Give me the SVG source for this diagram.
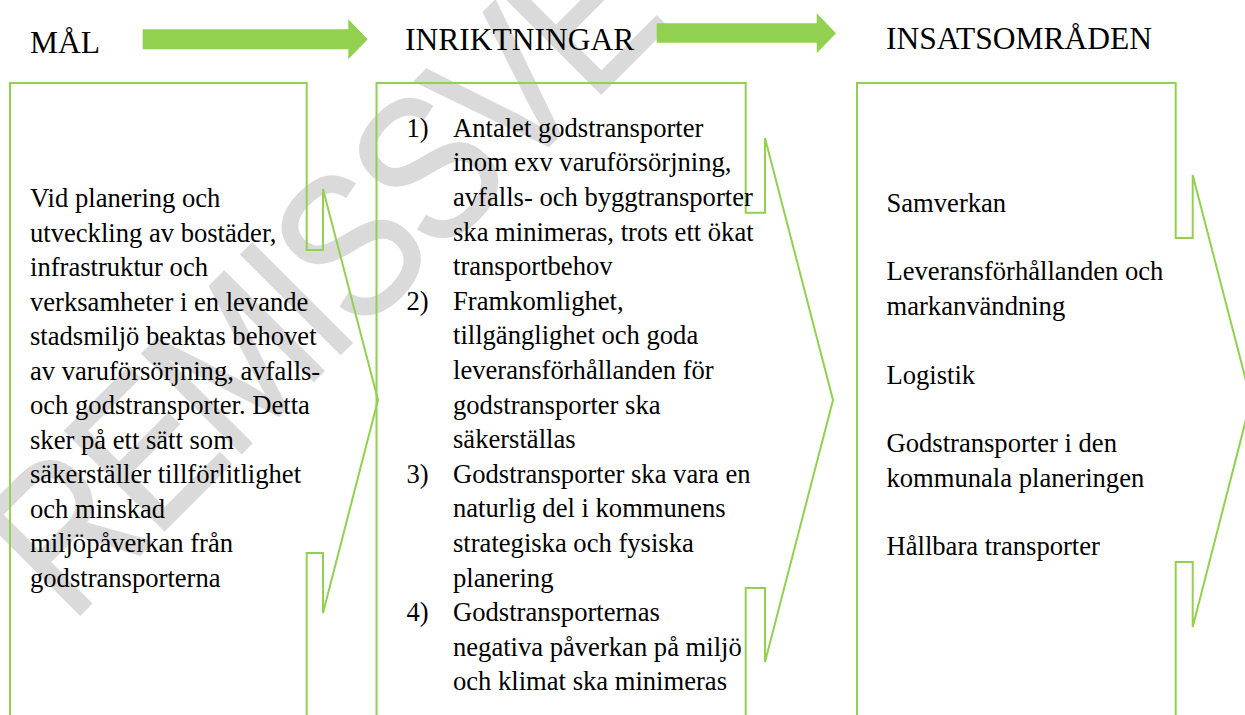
<svg xmlns="http://www.w3.org/2000/svg" width="1245" height="715" viewBox="0 0 1245 715">
<style>
.wm{font-family:"Liberation Sans",Arial,sans-serif;font-size:205px;letter-spacing:-8px;fill:#dadada;stroke:#dadada;stroke-width:1.5px}
.box{fill:none;stroke:#92D050;stroke-width:2}
.arr{fill:#92D050;stroke:none}
.h{font-family:"Liberation Serif","Times New Roman",serif;font-size:31.5px;fill:#000}
.t{font-family:"Liberation Serif","Times New Roman",serif;font-size:26.6px;fill:#000}
</style>
<rect width="1245" height="715" fill="#ffffff"/>
<text class="wm" transform="translate(70,625) rotate(-45) scale(0.85,1)">REMISSVE</text>
<g id="connectors">
<path class="arr" d="M142.7,29.3 H348.3 V19.3 L367.7,39.3 L348.3,59.3 V49.3 H142.7 Z"/>
<path class="arr" d="M656.7,23.3 H816.7 V13.3 L836,33.3 L816.7,53.3 V42.7 H656.7 Z"/>
</g>
<g id="mal">
<path class="box" d="M10,83 H306.7 V250 H323 V189 L378,400 L323,613 V553 H306.7 V730 H10 Z"/>
<text class="h" x="30" y="53">MÅL</text>
<text class="t" x="30">
<tspan x="30" y="207">Vid planering och</tspan>
<tspan x="30" y="241.5">utveckling av bostäder,</tspan>
<tspan x="30" y="276">infrastruktur och</tspan>
<tspan x="30" y="310.5">verksamheter i en levande</tspan>
<tspan x="30" y="345">stadsmiljö beaktas behovet</tspan>
<tspan x="30" y="379.5">av varuförsörjning, avfalls-</tspan>
<tspan x="30" y="414">och godstransporter. Detta</tspan>
<tspan x="30" y="448.5">sker på ett sätt som</tspan>
<tspan x="30" y="483">säkerställer tillförlitlighet</tspan>
<tspan x="30" y="517.5">och minskad</tspan>
<tspan x="30" y="552">miljöpåverkan från</tspan>
<tspan x="30" y="586.5">godstransporterna</tspan>
</text>
</g>
<g id="inriktningar">
<path class="box" d="M376.5,83 H745.7 V212.7 H765 V138 L833,400 L765,662 V588 H745.7 V730 H376.5 Z"/>
<text class="h" x="405" y="50">INRIKTNINGAR</text>
<text class="t">
<tspan x="406.5" y="136.7">1)</tspan>
<tspan x="453" y="136.7">Antalet godstransporter</tspan>
<tspan x="453" y="171.3">inom exv varuförsörjning,</tspan>
<tspan x="453" y="205.9">avfalls- och byggtransporter</tspan>
<tspan x="453" y="240.5">ska minimeras, trots ett ökat</tspan>
<tspan x="453" y="275.1">transportbehov</tspan>
<tspan x="406.5" y="309.7">2)</tspan>
<tspan x="453" y="309.7">Framkomlighet,</tspan>
<tspan x="453" y="344.3">tillgänglighet och goda</tspan>
<tspan x="453" y="378.9">leveransförhållanden för</tspan>
<tspan x="453" y="413.5">godstransporter ska</tspan>
<tspan x="453" y="448.1">säkerställas</tspan>
<tspan x="406.5" y="482.7">3)</tspan>
<tspan x="453" y="482.7">Godstransporter ska vara en</tspan>
<tspan x="453" y="517.3">naturlig del i kommunens</tspan>
<tspan x="453" y="551.9">strategiska och fysiska</tspan>
<tspan x="453" y="586.5">planering</tspan>
<tspan x="406.5" y="621.1">4)</tspan>
<tspan x="453" y="621.1">Godstransporternas</tspan>
<tspan x="453" y="655.7">negativa påverkan på miljö</tspan>
<tspan x="453" y="690.3">och klimat ska minimeras</tspan>
</text>
</g>
<g id="insatsomraden">
<path class="box" d="M857,83 H1175.7 V238 H1192.7 V175 L1251,400 L1192.7,627 V562 H1175.7 V730 H857 Z"/>
<text class="h" x="886" y="49">INSATSOMRÅDEN</text>
<text class="t">
<tspan x="886.5" y="211.7">Samverkan</tspan>
<tspan x="886.5" y="280.3">Leveransförhållanden och</tspan>
<tspan x="886.5" y="315">markanvändning</tspan>
<tspan x="886.5" y="383.5">Logistik</tspan>
<tspan x="886.5" y="452">Godstransporter i den</tspan>
<tspan x="886.5" y="486.6">kommunala planeringen</tspan>
<tspan x="886.5" y="555">Hållbara transporter</tspan>
</text>
</g>
</svg>
